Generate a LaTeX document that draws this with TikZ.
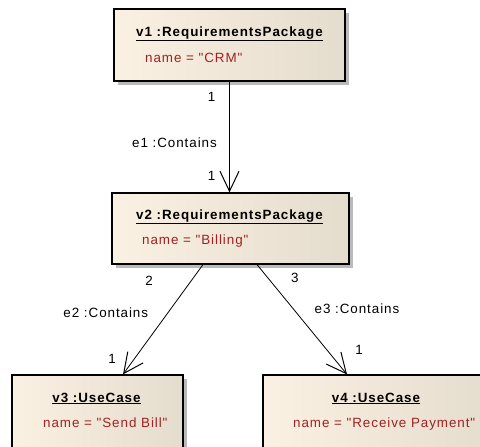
\documentclass[tikz,border=0pt]{standalone}
\usepackage{fontspec}
\newfontfamily\umlfont{Liberation Sans}[LetterSpace=7]
\usetikzlibrary{arrows.meta,shadows}
\definecolor{boxleft}{RGB}{251,241,226}
\definecolor{boxright}{RGB}{228,220,205}
\definecolor{attrred}{RGB}{160,34,34}
\tikzset{>={Straight Barb[length=20pt,width=19pt,line width=1pt]}}

\begin{document}
\begin{tikzpicture}[x=1pt,y=-1pt,font=\umlfont\fontsize{13.4}{16}\selectfont]

\tikzstyle{obj}=[draw,line width=1.2pt,rectangle,inner sep=0pt,
  left color=boxleft,right color=boxright,
  drop shadow={shadow xshift=4pt,shadow yshift=-4pt,fill=black!27,opacity=1}]
\tikzstyle{objname}=[inner sep=0pt,anchor=base,font=\umlfont\bfseries\fontsize{13.4}{16}\selectfont]
\tikzstyle{attr}=[inner sep=0pt,anchor=base west,text=attrred]
\tikzstyle{lab}=[inner sep=0pt,anchor=center]
\tikzstyle{link}=[->,line width=0.8pt]

\useasboundingbox (0,0) rectangle (480,447);

  % objects
  \node[obj,minimum width=231pt,minimum height=72pt] (v1) at (229.5,45) {};
  \node[objname] (v1t) at (229.5,36) {\underline{v1 :RequirementsPackage}};
  \node[attr] (v1a) at (145,63) {name = "CRM"};

  \node[obj,minimum width=237pt,minimum height=71pt] (v2) at (230.5,228.5) {};
  \node[objname] (v2t) at (229.5,219) {\underline{v2 :RequirementsPackage}};
  \node[attr] (v2a) at (142,244) {name = "Billing"};

  \node[obj,minimum width=171pt,minimum height=80pt] (v3) at (97.5,415) {};
  \node[objname] (v3t) at (96.5,402) {\underline{v3 :UseCase}};
  \node[attr] (v3a) at (43,427) {name = "Send Bill"};

  \node[obj,minimum width=232pt,minimum height=80pt] (v4) at (379,415) {};
  \node[objname] (v4t) at (376,402) {\underline{v4 :UseCase}};
  \node[attr] (v4a) at (293,427) {name = "Receive Payment"};

  % links
  \draw[link] (v1.south) -- (v1.south |- v2.north)
     node[lab,pos=0.14,xshift=-18pt] {1}
     node[lab,pos=0.55,xshift=-55pt] {e1 :Contains}
     node[lab,pos=0.85,xshift=-18pt] {1};
  \draw[link] ([xshift=-27.5pt]v2.south) -- ([xshift=25.5pt]v3.north)
     node[lab,pos=0.15,xshift=-42pt] {2}
     node[lab,pos=0.44,xshift=-62pt] {e2 :Contains}
     node[lab,pos=0.86,xshift=-22pt] {1};
  \draw[link] ([xshift=26.5pt]v2.south) -- ([xshift=-32pt]v4.north)
     node[lab,pos=0.12,xshift=27pt] {3}
     node[lab,pos=0.40,xshift=64pt] {e3 :Contains}
     node[lab,pos=0.78,xshift=32pt] {1};

\end{tikzpicture}
\end{document}
